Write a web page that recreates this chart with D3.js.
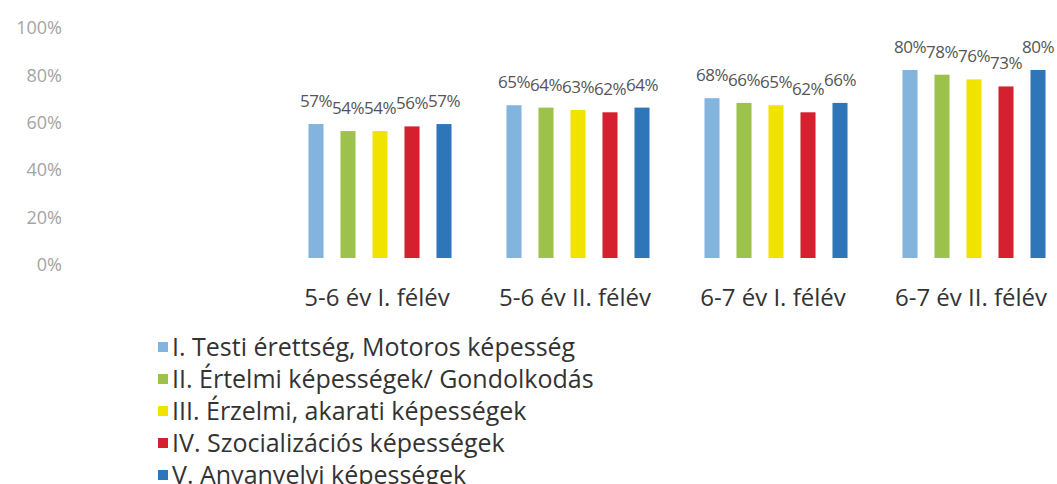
<!DOCTYPE html>
<html>
<head>
<meta charset="utf-8">
<script src="https://cdn.jsdelivr.net/npm/d3@7"></script>
<style>
  body { margin: 0; background: #fff; }
  text { font-family: "Open Sans", sans-serif; }
</style>
</head>
<body>
<div id="chart"></div>
<script>
// data
var groups = ["5-6 év I. félév", "5-6 év II. félév", "6-7 év I. félév", "6-7 év II. félév"];
var series = [
    "I. Testi érettség, Motoros képesség",
    "II. Értelmi képességek/ Gondolkodás",
    "III. Érzelmi, akarati képességek",
    "IV. Szocializációs képességek",
    "V. Anyanyelvi képességek"
];
var testi    = [57, 65, 68, 80];
var ertelmi  = [54, 64, 66, 78];
var erzelmi  = [54, 63, 65, 76];
var szocial  = [56, 62, 62, 73];
var anyanyelv = [57, 64, 66, 80];
var yTicks = [0, 20, 40, 60, 80, 100];
var colors = ["#82b4dd", "#9cc24c", "#f0e300", "#d4202f", "#2f76b9"];

var values = [testi, ertelmi, erzelmi, szocial, anyanyelv];

var width = 1057, height = 484;

var svg = d3.select("#chart").append("svg")
    .attr("width", width)
    .attr("height", height);

var x0 = d3.scaleBand().domain(groups).range([281, 1073]);
var x1 = d3.scaleBand().domain(series).range([-80, 80])
    .paddingInner(0.53).paddingOuter(0.265);
var y = d3.scaleLinear().domain([0, 100]).range([258, 23]);

// y axis labels only, no line or ticks
var yAxis = d3.axisLeft(d3.scaleLinear().domain([0, 100]).range([265, 28]))
    .tickValues(yTicks)
    .tickFormat(d => d + "%")
    .tickSize(0);
var ga = svg.append("g").attr("transform", "translate(62,0)").call(yAxis);
ga.select(".domain").remove();
ga.selectAll("text")
    .style("font-family", "'Open Sans', sans-serif")
    .style("font-size", "18px")
    .style("fill", "#a4a4a4")
    .attr("x", 0);

// bars
var rows = [];
groups.forEach(function(g, gi) {
    series.forEach(function(s, si) {
        rows.push({group: g, series: s, value: values[si][gi], color: colors[si]});
    });
});

var gBars = svg.append("g");
gBars.selectAll("rect")
    .data(rows)
    .enter()
    .append("rect")
    .attr("x", d => x0(d.group) + x0.bandwidth() / 2 + x1(d.series))
    .attr("width", x1.bandwidth())
    .attr("y", d => y(d.value))
    .attr("height", d => y(0) - y(d.value))
    .attr("fill", d => d.color);

gBars.selectAll("text")
    .data(rows)
    .enter()
    .append("text")
    .attr("x", d => x0(d.group) + x0.bandwidth() / 2 + x1(d.series) + x1.bandwidth() / 2)
    .attr("y", d => y(d.value) - 17)
    .attr("text-anchor", "middle")
    .style("font-size", "17px")
    .style("letter-spacing", "-0.5px")
    .style("fill", "#555")
    .text(d => d.value + "%");

// category labels
svg.append("g").selectAll("text")
    .data(groups)
    .enter()
    .append("text")
    .attr("x", d => x0(d) + x0.bandwidth() / 2 - 3)
    .attr("y", 306)
    .attr("text-anchor", "middle")
    .style("font-size", "24px")
    .style("fill", "#333")
    .text(d => d);

// legend
var legend = svg.append("g").attr("transform", "translate(158,347)");
var li = legend.selectAll("g")
    .data(series)
    .enter()
    .append("g")
    .attr("transform", (d, i) => "translate(0," + i * 32 + ")");
li.append("rect")
    .attr("x", 0).attr("y", -5)
    .attr("width", 10).attr("height", 10)
    .attr("fill", (d, i) => colors[i]);
li.append("text")
    .attr("x", 14)
    .attr("dy", "0.35em")
    .style("font-size", "25px")
    .style("fill", "#333")
    .text(d => d);
</script>
</body>
</html>
